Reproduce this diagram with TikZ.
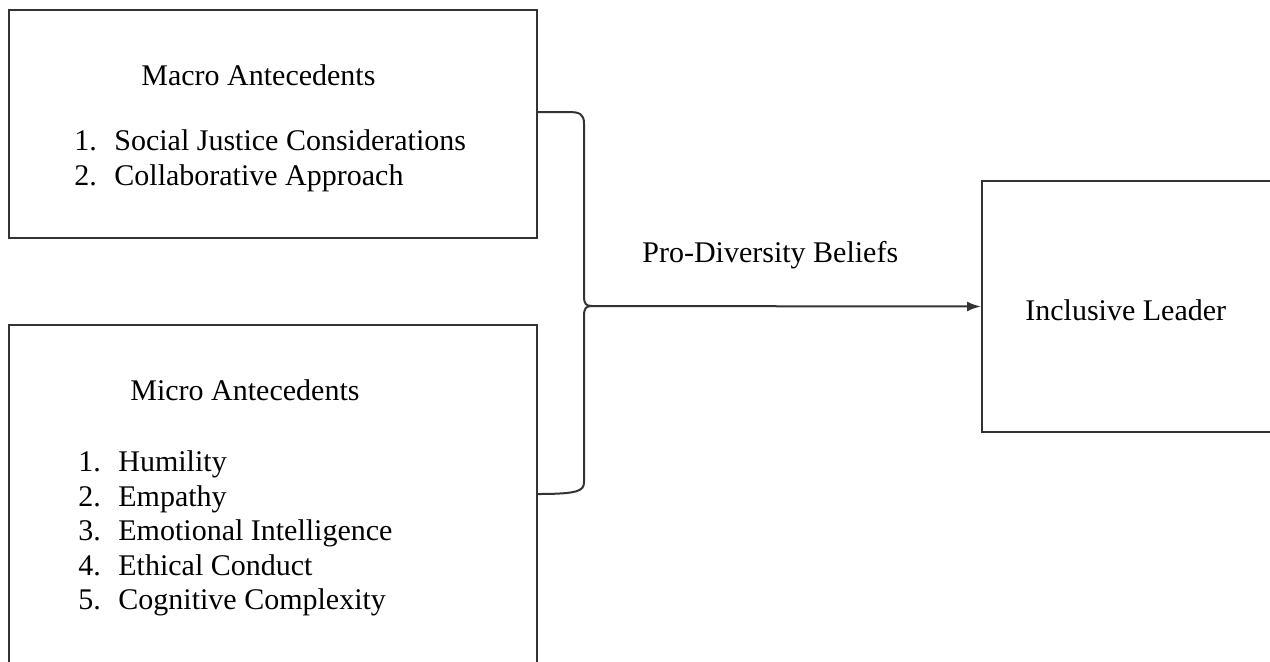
\documentclass[tikz,border=0pt]{standalone}
\usepackage{fontspec}
\setmainfont{Liberation Serif}
\usetikzlibrary{arrows.meta}

\begin{document}
\begin{tikzpicture}
  [x=0.5pt,y=-0.5pt,
   box/.style={rectangle,draw=black!80,line width=1pt,inner sep=0pt},
   txt/.style={anchor=base west,inner sep=0pt,font=\fontsize{15}{17.5}\selectfont},
   link/.style={draw=black!80,line width=1pt}]
  \useasboundingbox (0,0) rectangle (1270,661);
  \clip (0,0) rectangle (1270,661);

  % boxes
  \node[box,minimum width=264pt,minimum height=114pt] (macro) at (273,124) {};
  \node[box,minimum width=264pt,minimum height=187.5pt] (micro) at (273,512.5) {};
  \node[box,minimum width=159pt,minimum height=125.5pt] (leader) at (1141,306.5) {};

  % texts
  \node[txt] (macrotitle) at (141,85) {Macro Antecedents};
  \foreach \item [count=\i] in {Social Justice Considerations,Collaborative Approach}{
    \node[txt] (macronum\i) at (74,{115+35*\i}) {\i.};
    \node[txt] (macroitem\i) at (114,{115+35*\i}) {\item};
  }
  \node[txt] (microtitle) at (130,400) {Micro Antecedents};
  \foreach \item [count=\i] in {Humility,Empathy,Emotional Intelligence,Ethical Conduct,Cognitive Complexity}{
    \node[txt] (micronum\i) at (78,{437+34.5*\i}) {\i.};
    \node[txt] (microitem\i) at (118,{437+34.5*\i}) {\item};
  }
  \node[txt] (beliefs) at (642,262) {Pro-Diversity Beliefs};
  \node[txt] (leadertext) at (1025,320) {Inclusive Leader};

  % brace
  \coordinate (btop) at (537,112);
  \coordinate (bbot) at (537,494);
  \coordinate (tip) at (592,306);
  \draw[link] (btop) -- (568,112) .. controls (580,112) and (584,114) .. (584,124)
    -- (584,296) .. controls (584,304) and (586,306) .. (tip)
    .. controls (586,306) and (584,308) .. (584,316)
    -- (584,482) .. controls (584,491) and (578,494) .. (bbot);

  \draw[link,-{Latex[length=7pt,width=5pt]}] (tip) -- (leader.west);

\end{tikzpicture}
\end{document}
